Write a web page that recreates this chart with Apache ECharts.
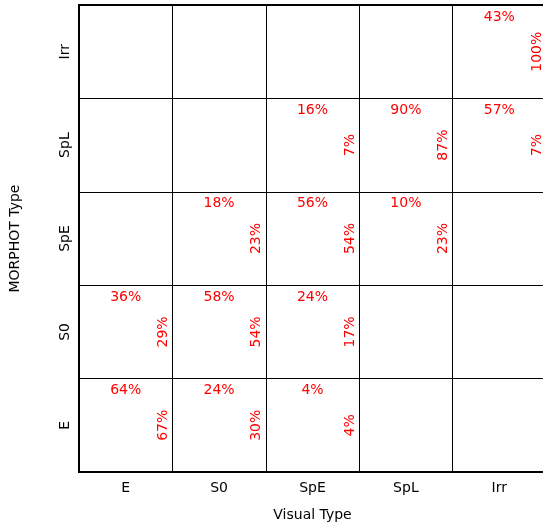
<!DOCTYPE html>
<html>
<head>
<meta charset="utf-8">
<script src="https://cdn.jsdelivr.net/npm/echarts@6/dist/echarts.min.js"></script>
<style>html,body{margin:0;padding:0;background:#fff;}#c{width:543px;height:524px;}</style>
</head>
<body>
<div id="c"></div>
<script>
var visualTypes = ['E', 'S0', 'SpE', 'SpL', 'Irr'];
var morphotTypes = ['E', 'S0', 'SpE', 'SpL', 'Irr'];
// [visualIndex, morphotIndex, topPercent, sidePercent]
var cellsE   = [[0, 0, 64, 67], [1, 0, 24, 30], [2, 0, 4, 4]];
var cellsS0  = [[0, 1, 36, 29], [1, 1, 58, 54], [2, 1, 24, 17]];
var cellsSpE = [[1, 2, 18, 23], [2, 2, 56, 54], [3, 2, 10, 23]];
var cellsSpL = [[2, 3, 16, 7], [3, 3, 90, 87], [4, 3, 57, 7]];
var cellsIrr = [[4, 4, 43, 100]];
var allCells = cellsE.concat(cellsS0, cellsSpE, cellsSpL, cellsIrr);

var FONT = 'DejaVu Sans';
var chart = echarts.init(document.getElementById('c'), null, {renderer: 'canvas'});
chart.setOption({
  animation: false,
  backgroundColor: '#fff',
  grid: {left: 79, top: 5, width: 467, height: 467, show: true, borderColor: '#000', borderWidth: 2,
         outerBoundsMode: 'none', containLabel: false},
  xAxis: {
    type: 'category', data: visualTypes, boundaryGap: true,
    name: 'Visual Type', nameLocation: 'middle', nameGap: 36,
    nameTextStyle: {color: '#000', fontSize: 14, fontFamily: FONT},
    axisLine: {lineStyle: {color: '#000', width: 2}},
    axisTick: {show: false},
    axisLabel: {color: '#000', fontSize: 14, fontFamily: FONT, margin: 9},
    splitLine: {show: true, lineStyle: {color: '#000', width: 1}}
  },
  yAxis: {
    type: 'category', data: morphotTypes, boundaryGap: true,
    name: 'MORPHOT Type', nameLocation: 'middle', nameGap: 57, nameRotate: 90,
    nameTextStyle: {color: '#000', fontSize: 14, fontFamily: FONT},
    axisLine: {lineStyle: {color: '#000', width: 2}},
    axisTick: {show: false},
    axisLabel: {color: '#000', fontSize: 14, fontFamily: FONT, rotate: 90, margin: 7, align: 'center', verticalAlign: 'bottom'},
    splitLine: {show: true, lineStyle: {color: '#000', width: 1}}
  },
  series: [{
    type: 'custom',
    data: allCells,
    renderItem: function (params, api) {
      var c = api.coord([api.value(0), api.value(1)]);
      var s = api.size([1, 1]);
      return {
        type: 'group',
        children: [{
          type: 'text',
          style: {
            x: c[0], y: c[1] - s[1] / 2 + 12,
            text: api.value(2) + '%',
            fill: '#ff0000', font: '14px "' + FONT + '"',
            align: 'center', verticalAlign: 'middle'
          }
        }, {
          type: 'text',
          x: c[0] + s[0] / 2 - 9, y: c[1],
          rotation: Math.PI / 2,
          style: {
            x: 0, y: 0,
            text: api.value(3) + '%',
            fill: '#ff0000', font: '14px "' + FONT + '"',
            align: 'center', verticalAlign: 'middle'
          }
        }]
      };
    }
  }]
});
</script>
</body>
</html>
